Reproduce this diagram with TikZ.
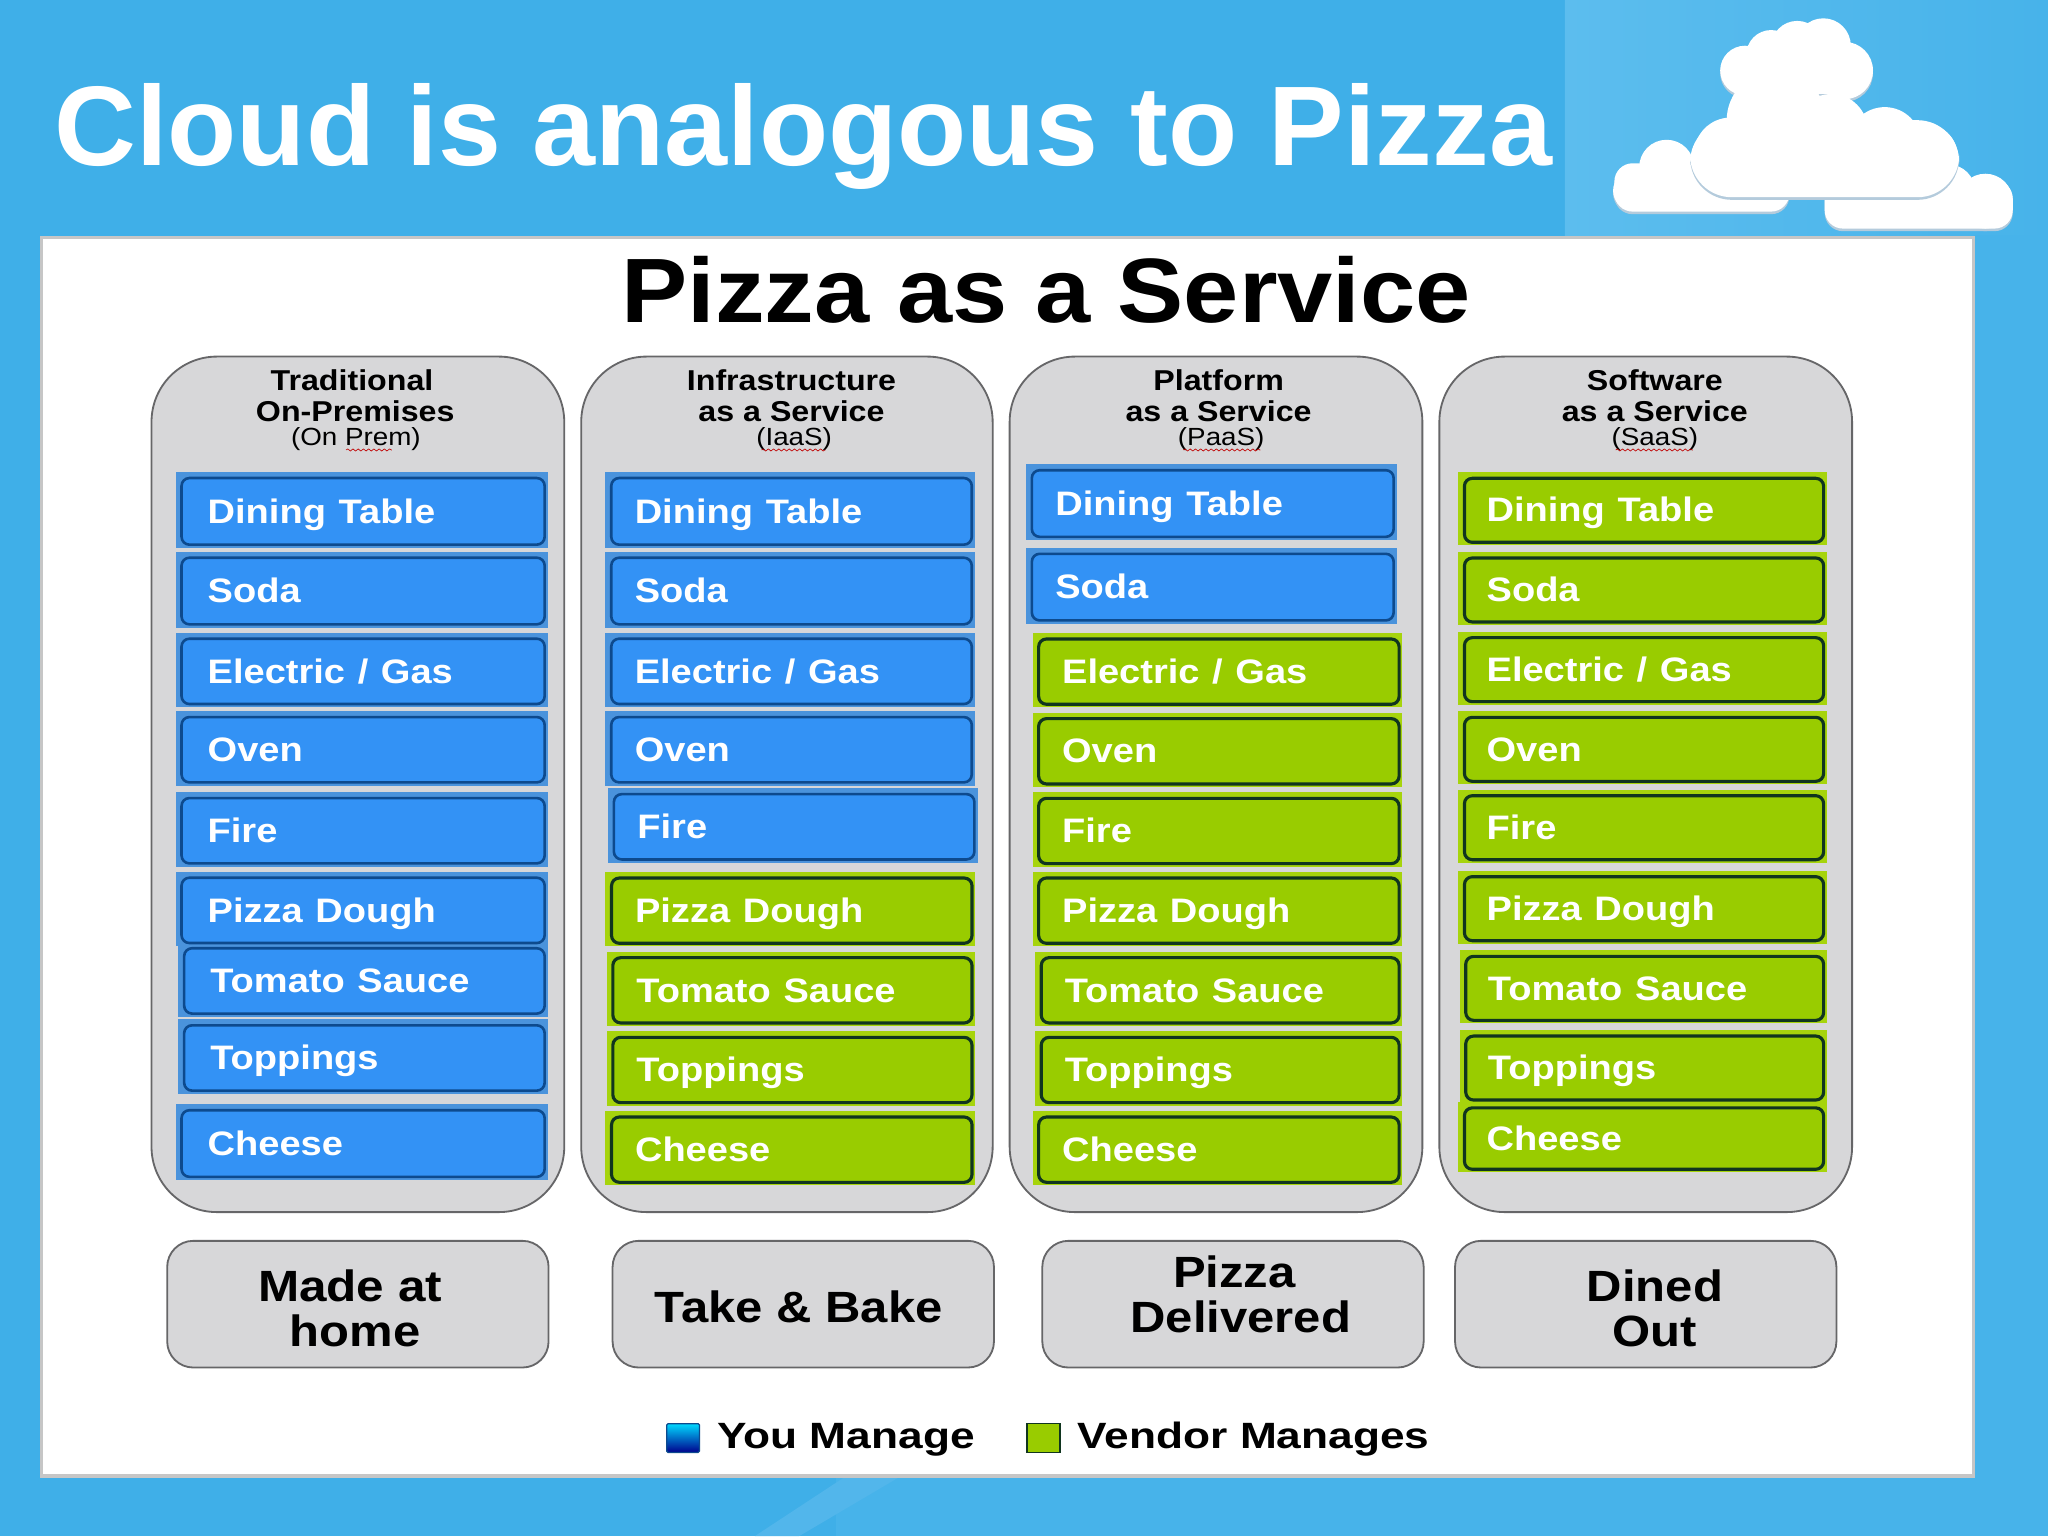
\documentclass[tikz,border=0pt]{standalone}
\usepackage{fontspec}
\setmainfont{Liberation Sans}
\usetikzlibrary{decorations.pathmorphing}
\definecolor{bgA}{HTML}{3FAFE8}
\definecolor{bgB}{HTML}{5CBDEE}
\definecolor{bgC}{HTML}{47B3EA}
\definecolor{bgD}{HTML}{52B6EB}
\definecolor{panelline}{HTML}{C6C6C6}
\definecolor{colfill}{HTML}{D7D7D9}
\definecolor{colline}{HTML}{666668}
\definecolor{bluefill}{HTML}{3392F5}
\definecolor{blueline}{HTML}{0D4A8E}
\definecolor{blueback}{HTML}{4A93DC}
\definecolor{greenfill}{HTML}{99CC00}
\definecolor{greenline}{HTML}{10351F}
\definecolor{greenback}{HTML}{A6D40C}
\definecolor{cloudshadow}{HTML}{B4CBDC}
\newcommand{\st}[2][1.12]{\scalebox{#1}[1]{#2}}
\pgfdeclarelayer{bg}\pgfdeclarelayer{mid}
\pgfsetlayers{bg,mid,main}
\tikzset{
  x=1pt,y=-1pt,
  col/.style={fill=colfill,draw=colline,line width=1.4pt,rounded corners=50pt},
  bluebox/.style={fill=bluefill,draw=blueline,line width=2pt},
  greenbox/.style={fill=greenfill,draw=greenline,line width=2.4pt},
  itembox/.style={rounded corners=6pt,inner ysep=0pt,align=left,text=white,
    font=\fontsize{26}{30}\selectfont\bfseries},
  header/.style={align=center,text=black,font=\fontsize{22}{23.5}\selectfont\bfseries,inner sep=0pt},
  headsub/.style={text=black,font=\fontsize{19}{22}\selectfont,inner sep=0pt},
  squig/.style={draw=red!75!black,line width=.5pt,decorate,decoration={snake,amplitude=.8pt,segment length=4pt}},
  bottombox/.style={fill=colfill,draw=colline,line width=1.4pt,rounded corners=20pt,inner sep=0pt,
    minimum width=292pt,minimum height=97pt},
  bottomtext/.style={inner sep=0pt,align=center,text=black,font=\fontsize{33.5}{34.5}\selectfont\bfseries},
  legendtext/.style={anchor=west,text=black,inner sep=0pt,font=\fontsize{28}{30}\selectfont\bfseries},
}
\def\itpad{18}
\newcommand{\itm}[7]{% name,xL,xR,yT,yB,text,colour
  \pgfmathsetlengthmacro{\itw}{#3-#2-2}\pgfmathsetlengthmacro{\ith}{#5-#4-2}
  \pgfmathsetlengthmacro{\ittw}{#3-#2-2-2*\itpad}
  \pgfmathsetlengthmacro{\itxs}{\itpad}
  \begin{pgfonlayer}{mid}
    \fill[#7back] (#2-2.5,#4-2.5) rectangle (#3+2.5,#5+2.5);
  \end{pgfonlayer}
  \node[itembox,#7box,anchor=north west,inner xsep=\itxs,minimum width=\itw,minimum height=\ith,text width=\ittw] (#1) at (#2+1,#4+1) {\vphantom{A}\smash{\st{#6}}};
}
\begin{document}
\begin{tikzpicture}
\useasboundingbox (0,0) rectangle (1568,1176);
\begin{pgfonlayer}{bg}
  % background
  \fill[bgA] (0,0) rectangle (1568,1176);
  \shade[left color=bgB,right color=bgC,shading angle=90] (1198,0) rectangle (1568,180);
  \fill[bgC] (1511,180) rectangle (1568,1176);
  \fill[bgC] (640,1130) rectangle (1568,1176);
  \fill[bgD] (648,1130) -- (578,1176) -- (612,1176) -- (690,1130) -- cycle;
  % clouds
  \foreach \dy/\c in {2/cloudshadow,0/white}{
    \begin{scope}[yshift=-\dy pt]
      \fill[\c] (1336,54) circle (19);
      \fill[\c] (1356,42) circle (19);
      \fill[\c] (1376,36) circle (20);
      \fill[\c] (1396,35) circle (21);
      \fill[\c] (1412,54) circle (22);
      \fill[\c] (1336,40) rectangle (1412,72);
    \end{scope}
  }
  \foreach \dy/\c in {2/cloudshadow,0/white}{
    \begin{scope}[yshift=-\dy pt]
      \fill[\c] (1250,146) circle (15);
      \fill[\c] (1276,128) circle (21);
      \fill[\c,rounded corners=14pt] (1236,125) rectangle (1370,162);
    \end{scope}
  }
  \foreach \dy/\c in {2/cloudshadow,0/white}{
    \begin{scope}[yshift=-\dy pt]
      \fill[\c] (1520,154) circle (21);
      \fill[\c] (1492,146) circle (20);
      \fill[\c,rounded corners=14pt] (1397,138) rectangle (1541,175);
    \end{scope}
  }
  \foreach \dy/\c in {2/cloudshadow,0/white}{
    \begin{scope}[yshift=-\dy pt]
      \fill[\c] (1360,92) circle (38);
      \fill[\c] (1325,118) circle (28);
      \fill[\c] (1402,100) circle (28);
      \fill[\c] (1443,110) circle (28);
      \fill[\c] (1474,120) circle (25);
      \fill[\c,rounded corners=32pt] (1294,92) rectangle (1500,151);
    \end{scope}
  }
  % white panel
  \fill[white,draw=panelline,line width=2.6pt] (32,182) rectangle (1511,1130);
  % columns
  \draw[col] (116,273) rectangle (432,928);
  \draw[col] (445,273) rectangle (760,928);
  \draw[col] (773,273) rectangle (1089,928);
  \draw[col] (1102,273) rectangle (1418,928);
\end{pgfonlayer}

\node[anchor=base west,inner sep=0pt,text=white,font=\fontsize{86.7}{90}\selectfont\bfseries] (title) at (41.5,127) {Cloud is analogous to Pizza};
\node[anchor=base,inner sep=0pt,text=black,font=\fontsize{70}{72}\selectfont\bfseries] (subtitle) at (801,247) {\st[1.085]{Pizza as a Service}};

% headers
\node[header] (h1) at (271,303) {\st{Traditional}\hspace*{3pt}\\[0pt]\hspace*{2pt}\st{On-Premises}};
\node[headsub] (h1s) at (272.5,336) {\st{(On Prem)}};
\node[header] (h2) at (606,303) {\st{Infrastructure}\\[0pt]\st{as a Service}};
\node[headsub] (h2s) at (608,336) {\st{(IaaS)}};
\node[header] (h3) at (933,303) {\st{Platform}\\[0pt]\st{as a Service}};
\node[headsub] (h3s) at (935,336) {\st{(PaaS)}};
\node[header] (h4) at (1267,303) {\st{Software}\\[0pt]\st{as a Service}};
\node[headsub] (h4s) at (1267,336) {\st{(SaaS)}};
\draw[squig] (265,344.5) -- (300,344.5);
\draw[squig] (583,344.5) -- (632,344.5);
\draw[squig] (906,344.5) -- (965,344.5);
\draw[squig] (1237,344.5) -- (1296,344.5);

% column 1
\def\itpad{20}
\itm{a1}{137}{417}{364}{417}{Dining Table}{blue}
\itm{a2}{137}{417}{425}{478}{Soda}{blue}
\itm{a3}{137}{417}{487}{539}{Electric / Gas}{blue}
\itm{a4}{137}{417}{547}{599}{Oven}{blue}
\itm{a5}{137}{417}{609}{661}{Fire}{blue}
\itm{a6}{137}{417}{670}{722}{Pizza Dough}{blue}
\itm{a7}{139}{417}{724}{776}{Tomato Sauce}{blue}
\itm{a8}{139}{417}{783}{835}{Toppings}{blue}
\itm{a9}{137}{417}{848}{901}{Cheese}{blue}
% column 2
\def\itpad{18}
\itm{b1}{466}{744}{364}{417}{Dining Table}{blue}
\itm{b2}{466}{744}{425}{478}{Soda}{blue}
\itm{b3}{466}{744}{487}{539}{Electric / Gas}{blue}
\itm{b4}{466}{744}{547}{599}{Oven}{blue}
\itm{b5}{468}{746}{606}{658}{Fire}{blue}
\itm{b6}{466}{744}{670}{722}{Pizza Dough}{green}
\itm{b7}{467}{744}{731}{783}{Tomato Sauce}{green}
\itm{b8}{467}{744}{792}{844}{Toppings}{green}
\itm{b9}{466}{744}{853}{905}{Cheese}{green}
% column 3
\itm{c1}{788}{1067}{358}{411}{Dining Table}{blue}
\itm{c2}{788}{1067}{422}{475}{Soda}{blue}
\itm{c3}{793}{1071}{487}{539}{Electric / Gas}{green}
\itm{c4}{793}{1071}{548}{600}{Oven}{green}
\itm{c5}{793}{1071}{609}{661}{Fire}{green}
\itm{c6}{793}{1071}{670}{722}{Pizza Dough}{green}
\itm{c7}{795}{1071}{731}{783}{Tomato Sauce}{green}
\itm{c8}{795}{1071}{792}{844}{Toppings}{green}
\itm{c9}{793}{1071}{853}{905}{Cheese}{green}
% column 4
\def\itpad{17}
\itm{d1}{1119}{1396}{364}{415}{Dining Table}{green}
\itm{d2}{1119}{1396}{425}{476}{Soda}{green}
\itm{d3}{1119}{1396}{486}{537}{Electric / Gas}{green}
\itm{d4}{1119}{1396}{547}{598}{Oven}{green}
\itm{d5}{1119}{1396}{607}{658}{Fire}{green}
\itm{d6}{1119}{1396}{669}{720}{Pizza Dough}{green}
\itm{d7}{1120}{1396}{730}{781}{Tomato Sauce}{green}
\itm{d8}{1120}{1396}{791}{842}{Toppings}{green}
\itm{d9}{1119}{1396}{846}{895}{Cheese}{green}

% bottom boxes
\node[bottombox] (m1) at (274,998.5) {};
\node[bottombox] (m2) at (615,998.5) {};
\node[bottombox] (m3) at (944,998.5) {};
\node[bottombox] (m4) at (1260,998.5) {};
\node[bottomtext] (m1t) at (270,1002) {\st[1.13]{Made at}\hspace*{4pt}\\\hspace*{4pt}\st{home}};
\node[bottomtext] (m2t) at (611.5,1000.5) {\st{Take \& Bake}};
\node[bottomtext] (m3t) at (950,991) {\st{Pizza}\hspace*{10pt}\\\st{Delivered}};
\node[bottomtext] (m4t) at (1267,1002) {\st{Dined}\\\st{Out}};

% legend
\node[draw=blueline,line width=1pt,top color=cyan!85!blue,bottom color=blue!55!black,inner sep=0pt,minimum width=25pt,minimum height=22pt,rounded corners=1pt] (k1) at (523,1101) {};
\node[fill=greenfill,draw=greenline,line width=1.2pt,inner sep=0pt,minimum width=25pt,minimum height=22pt] (k2) at (799,1101) {};
\node[legendtext] (k1t) at (549,1102) {\st[1.21]{You Manage}};
\node[legendtext] (k2t) at (825,1102) {\st[1.21]{Vendor Manages}};
\end{tikzpicture}
\end{document}
